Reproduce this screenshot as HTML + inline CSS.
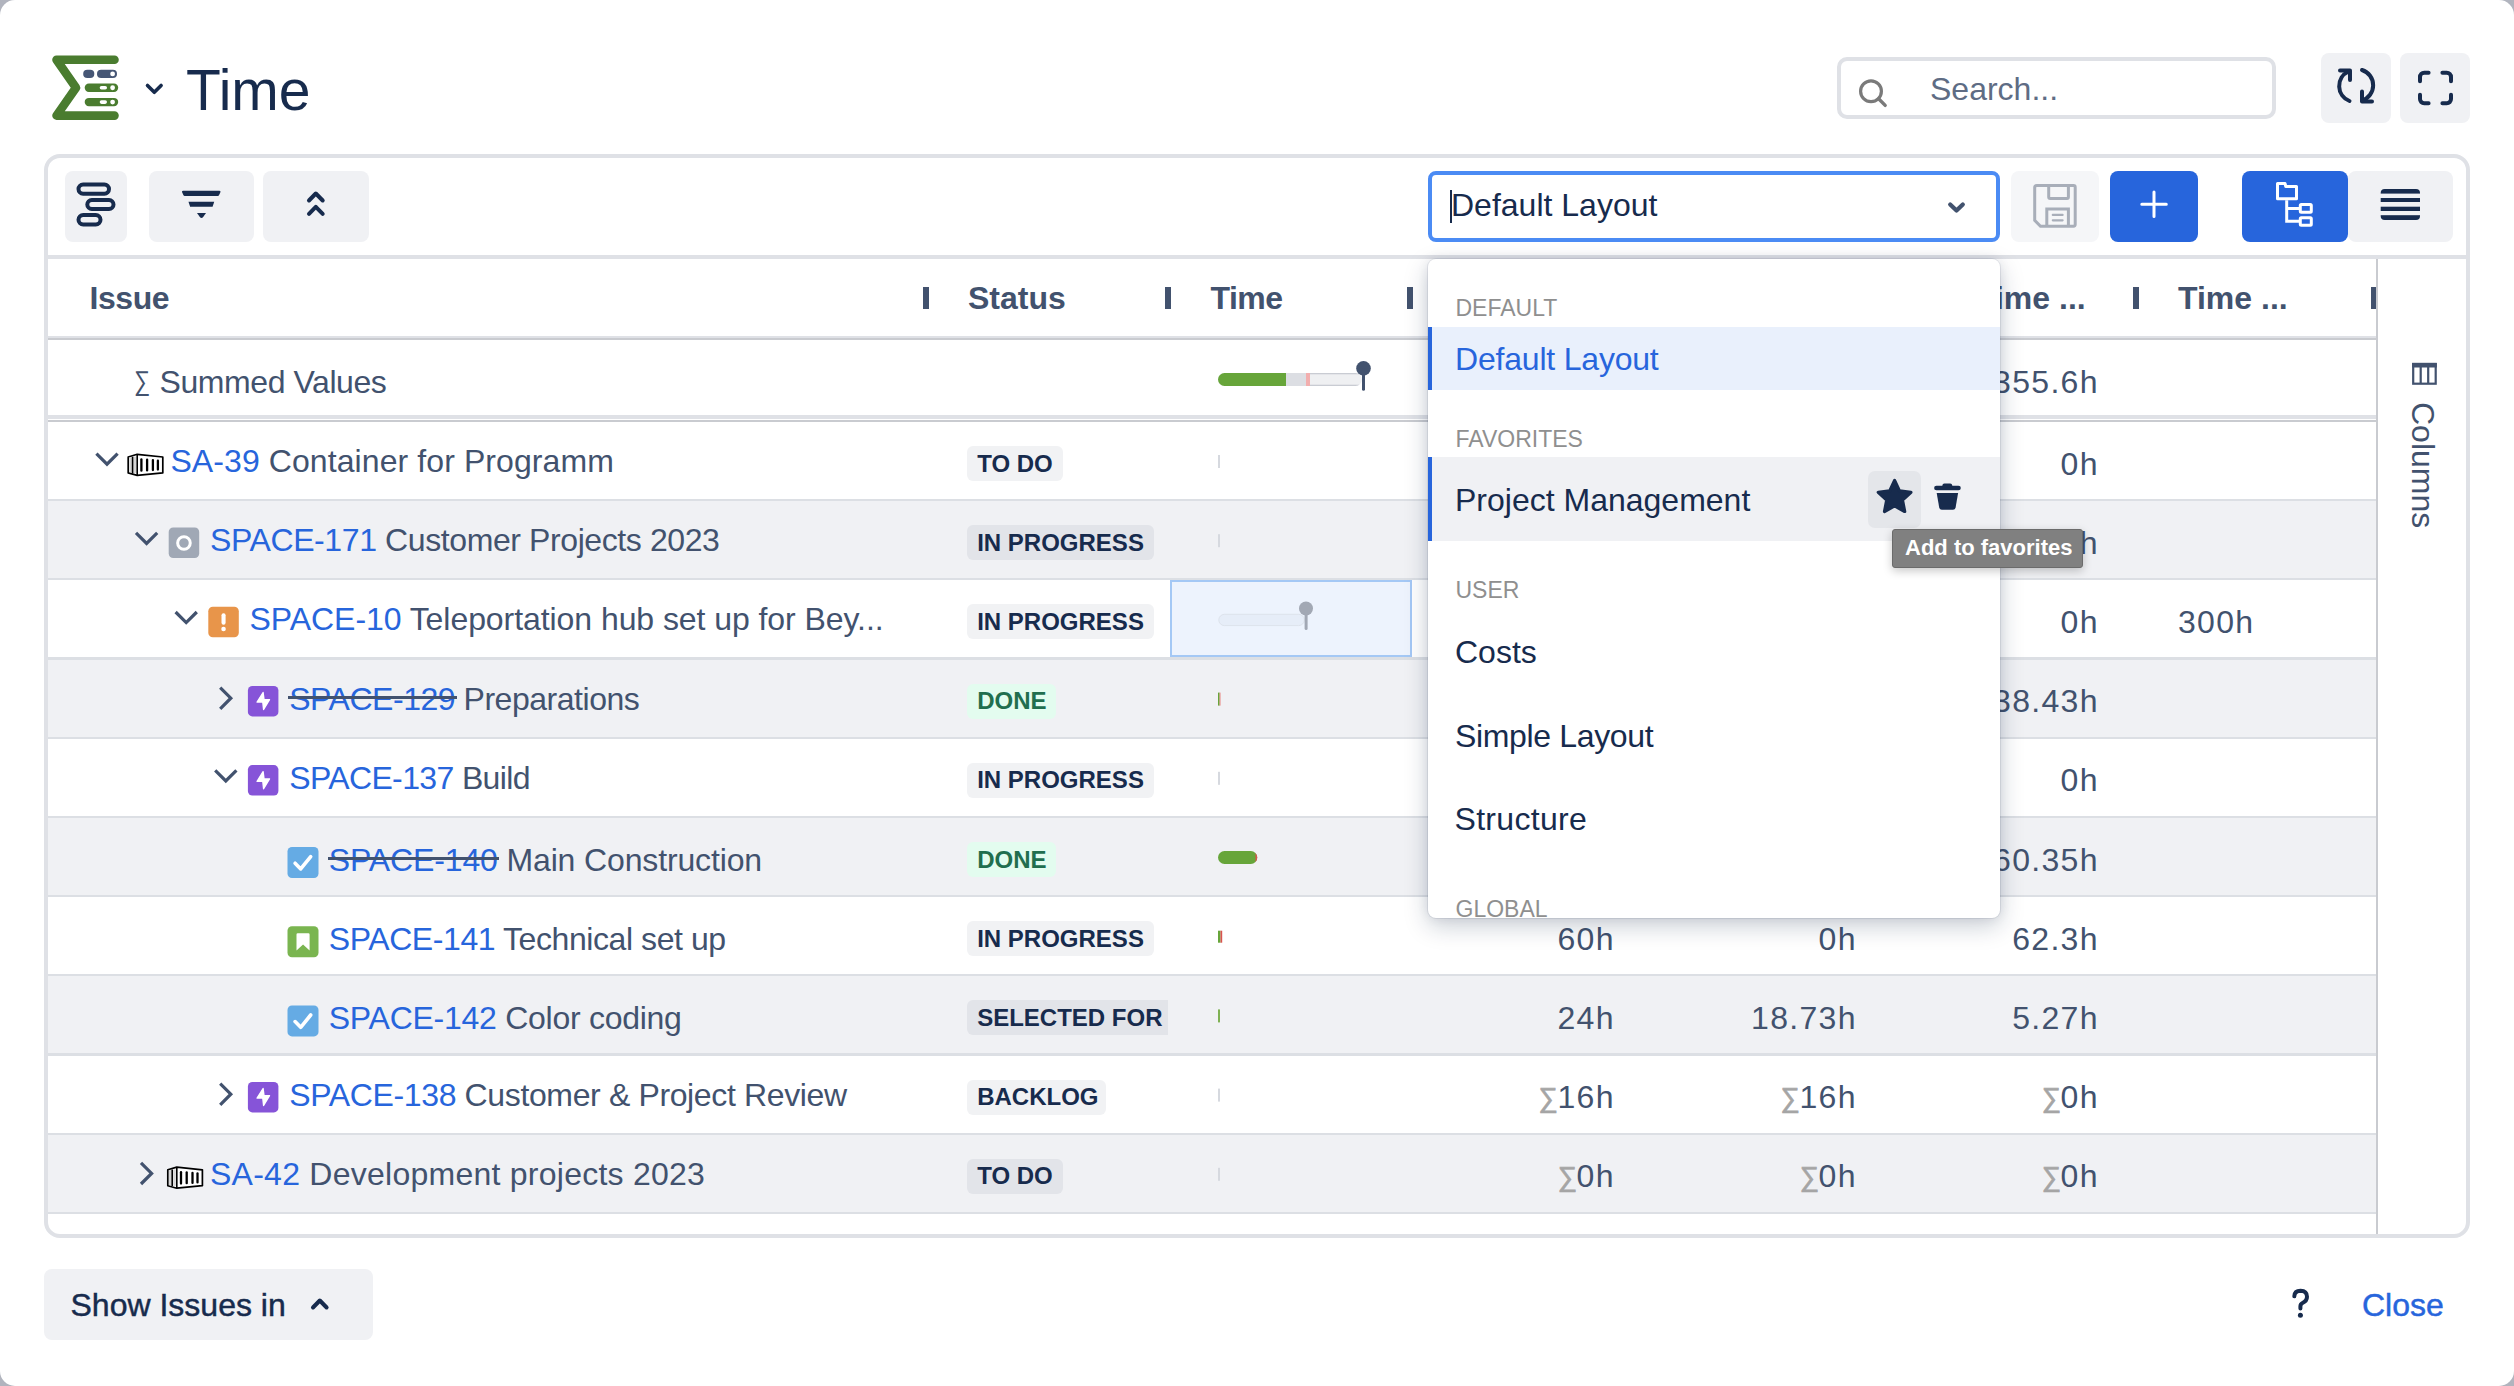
<!DOCTYPE html>
<html><head><meta charset="utf-8">
<style>
html,body{margin:0;padding:0;}
body{width:2514px;height:1386px;background:#b1b4be;position:relative;overflow:hidden;font-family:"Liberation Sans",sans-serif;}
.modal{position:absolute;left:0;top:0;width:2514px;height:1386px;background:#fff;border-radius:15px;overflow:hidden;}
.a{position:absolute;}
.t{position:absolute;line-height:1;white-space:nowrap;}
svg{position:absolute;left:0;top:0;overflow:visible;}
.btn{position:absolute;background:#f0f1f4;border-radius:8px;}
.sig{color:#a5a5a5;font-size:27px;position:relative;top:-1px;margin-right:-0.3px;letter-spacing:0;-webkit-text-stroke:0.7px #a5a5a5;}
.strk{position:absolute;left:-1px;right:-1.5px;top:15.2px;height:3px;background:#42526e;}
</style></head>
<body><div class="modal">
<svg width="1" height="1">
  <path d="M114.5 59.7 L56.5 59.7 L76 87.7 L56.5 115.6 L114.5 115.6" fill="none" stroke="#4a7c2f" stroke-width="8.6" stroke-linejoin="round" stroke-linecap="round"/>
  <rect x="83.2" y="69.8" width="11.1" height="8.2" rx="4.1" fill="#465675"/>
  <rect x="97" y="69.8" width="20" height="8.2" rx="4.1" fill="#465675"/>
  <circle cx="112.6" cy="73.9" r="2.4" fill="#fff"/>
  <rect x="84.7" y="83.6" width="33.5" height="8.3" rx="4.15" fill="#4a7c2f"/>
  <rect x="99.7" y="86" width="7.3" height="3.6" rx="1.8" fill="#fff"/>
  <circle cx="112.6" cy="87.75" r="2.4" fill="#fff"/>
  <rect x="84.7" y="97.9" width="33.5" height="8.3" rx="4.15" fill="#4a7c2f"/>
  <rect x="99.7" y="100.3" width="7.3" height="3.6" rx="1.8" fill="#fff"/>
  <circle cx="112.6" cy="102.05" r="2.4" fill="#fff"/>
  <path d="M147.5 85.5 L154.3 92.3 L161.1 85.5" fill="none" stroke="#172b4d" stroke-width="3.6" stroke-linecap="round" stroke-linejoin="round"/>
</svg>
<div class="t" style="left:186.00px;top:61.75px;font-size:57px;color:#172b4d;">Time</div>
<div class="a" style="left:1837px;top:57px;width:431px;height:54px;border:4px solid #dfe1e6;border-radius:10px;background:#fff;"></div>
<svg width="1" height="1">
  <circle cx="1871" cy="91.2" r="10.4" fill="none" stroke="#7a7a7a" stroke-width="3.2"/>
  <path d="M1878.6 98.8 L1885.2 105.4" stroke="#7a7a7a" stroke-width="3.4" stroke-linecap="round"/>
</svg>
<div class="t" style="left:1930.00px;top:72.61px;font-size:32px;color:#5e6c84;">Search...</div>
<div class="btn" style="left:2321px;top:53px;width:70px;height:70px;"></div>
<div class="btn" style="left:2400px;top:53px;width:70px;height:70px;"></div>
<svg width="1" height="1"><g fill="none" stroke="#172b4d" stroke-width="4" stroke-linecap="round" stroke-linejoin="round">
  <path d="M2349.5 101 A16 16 0 0 1 2348.5 71.5"/>
  <path d="M2340 70.5 L2350 70.5 L2350 80"/>
  <path d="M2362 70 A16 16 0 0 1 2362 100.5"/>
  <path d="M2362 91.5 L2362 101.5 L2372 101.5"/>
  <path d="M2420 81.3 L2420 77 A4.2 4.2 0 0 1 2424.2 72.8 L2428.6 72.8"/>
  <path d="M2442.4 72.8 L2446.8 72.8 A4.2 4.2 0 0 1 2451 77 L2451 81.3"/>
  <path d="M2420 94.7 L2420 99 A4.2 4.2 0 0 0 2424.2 103.2 L2428.6 103.2"/>
  <path d="M2442.4 103.2 L2446.8 103.2 A4.2 4.2 0 0 0 2451 99 L2451 94.7"/>
</g></svg>
<div class="btn" style="left:65px;top:171px;width:62px;height:71px;"></div>
<div class="btn" style="left:149px;top:171px;width:105px;height:71px;"></div>
<div class="btn" style="left:263px;top:171px;width:106px;height:71px;"></div>
<svg width="1" height="1">
 <g fill="none" stroke="#172b4d" stroke-width="4">
  <rect x="78.5" y="184.5" width="30.5" height="9.2" rx="4.6"/>
  <rect x="87.3" y="200" width="26.2" height="9" rx="4.5"/>
  <rect x="78.5" y="214.9" width="22" height="9.5" rx="4.75"/>
 </g>
 <g fill="#172b4d">
  <path d="M183 190.8 L219.5 190.8 Q221 190.8 220.4 192.3 L219 195.2 Q218.7 196 217.8 196 L184.7 196 Q183.8 196 183.5 195.2 L182.1 192.3 Q181.5 190.8 183 190.8 Z"/>
  <path d="M188.5 201.8 L214.2 201.8 L212.6 206.8 L190.1 206.8 Z"/>
  <path d="M197 212.9 L206 212.9 L203 217.2 Q201.5 218.6 200 217.2 Z"/>
 </g>
 <g fill="none" stroke="#172b4d" stroke-width="4" stroke-linecap="round" stroke-linejoin="round">
  <path d="M309 200.5 L315.8 193.5 L322.7 200.5"/>
  <path d="M309 213.8 L315.8 206.8 L322.7 213.8"/>
 </g>
</svg>
<div class="a" style="left:1428px;top:171px;width:564px;height:63px;border:4px solid #4b8bf4;border-radius:8px;background:#fff;"></div>
<div class="t" style="left:1451.00px;top:189.31px;font-size:32px;color:#172b4d;">Default Layout</div>
<div class="a" style="left:1449.5px;top:190px;width:2px;height:33px;background:#172b4d;"></div>
<svg width="1" height="1"><path d="M1950.2 204.4 L1956.5 210.6 L1962.8 204.4" fill="none" stroke="#42526e" stroke-width="4.2" stroke-linecap="round" stroke-linejoin="round"/></svg>
<div class="btn" style="left:2011px;top:171px;width:88px;height:71px;background:#f5f6f8;"></div>
<svg width="1" height="1"><g fill="none" stroke="#a8aeb9" stroke-width="3">
  <path d="M2036.8 185.5 L2073.5 185.5 Q2075.2 185.5 2075.2 187.2 L2075.2 224.6 Q2075.2 226.2 2073.5 226.2 L2040.5 226.2 L2034.7 220.4 L2034.7 187.5 Q2034.7 185.5 2036.8 185.5 Z"/>
  <path d="M2048.7 185.5 L2048.7 197 Q2048.7 198.4 2050.2 198.4 L2067 198.4 Q2068.4 198.4 2068.4 197 L2068.4 185.5"/>
  <path d="M2046.8 226.2 L2046.8 209 L2068.4 209 L2068.4 226.2"/>
  <path d="M2052.8 214.9 L2062.6 214.9 M2052.8 220.3 L2062.6 220.3" stroke-width="2.2" stroke-linecap="round"/>
</g></svg>
<div class="btn" style="left:2110px;top:171px;width:88px;height:71px;background:#2765dc;"></div>
<svg width="1" height="1"><path d="M2154 192 L2154 216.5 M2141.8 204.3 L2166.3 204.3" stroke="#fff" stroke-width="3" stroke-linecap="round"/></svg>
<div class="btn" style="left:2348px;top:171px;width:105px;height:71px;"></div>
<div class="btn" style="left:2242px;top:171px;width:106px;height:71px;background:#2765dc;"></div>
<svg width="1" height="1"><g fill="none" stroke="#fff" stroke-width="3">
  <path d="M2277.5 198.8 L2277.5 183.5 L2285 183.5 L2285.8 186.5 L2296.5 186.5 L2296.5 198.8 Z" stroke-linejoin="round"/>
  <path d="M2286.7 200.3 L2286.7 221.3 L2300 221.3 M2286.7 208.5 L2300 208.5"/>
  <rect x="2300.3" y="204.5" width="11" height="7.7" rx="1"/>
  <rect x="2300.3" y="217.7" width="11" height="7.6" rx="1"/>
</g>
<rect x="2380.7" y="189" width="39.3" height="31" rx="4" fill="#172b4d"/>
<g fill="#f0f1f4"><rect x="2379" y="193.6" width="43" height="4.4"/><rect x="2379" y="202" width="43" height="4.7"/><rect x="2379" y="211" width="43" height="4.2"/></g>
</svg>
<div class="a" style="left:44px;top:154px;width:2418px;height:1076px;border:4px solid #dfe1e6;border-radius:16px;"></div>
<div class="a" style="left:48px;top:255px;width:2418px;height:4px;background:#dfe1e6;"></div>
<div class="a" style="left:48px;top:336px;width:2328px;height:2px;background:#dfe1e6;"></div>
<div class="a" style="left:48px;top:338px;width:2328px;height:2px;background:#c9cbd0;"></div>
<div class="a" style="left:48px;top:415px;width:2328px;height:4px;background:#dfe1e6;"></div>
<div class="a" style="left:48px;top:420px;width:2328px;height:2px;background:#c9cbd0;"></div>
<div class="t" style="left:89.50px;top:282.41px;font-size:32px;color:#42526e;font-weight:bold;letter-spacing:-0.45px;">Issue</div>
<div class="t" style="left:968.00px;top:282.41px;font-size:32px;color:#42526e;font-weight:bold;">Status</div>
<div class="t" style="left:1210.50px;top:282.41px;font-size:32px;color:#42526e;font-weight:bold;letter-spacing:-0.5px;">Time</div>
<div class="t" style="left:1976.00px;top:282.41px;font-size:32px;color:#42526e;font-weight:bold;">Time ...</div>
<div class="t" style="left:2178.00px;top:282.41px;font-size:32px;color:#42526e;font-weight:bold;">Time ...</div>
<div class="a" style="left:922.5px;top:286.5px;width:6px;height:22.5px;background:#42526e;"></div>
<div class="a" style="left:1164.5px;top:286.5px;width:6px;height:22.5px;background:#42526e;"></div>
<div class="a" style="left:1406.7px;top:286.5px;width:6px;height:22.5px;background:#42526e;"></div>
<div class="a" style="left:1648.7px;top:286.5px;width:6px;height:22.5px;background:#42526e;"></div>
<div class="a" style="left:1890.7px;top:286.5px;width:6px;height:22.5px;background:#42526e;"></div>
<div class="a" style="left:2132.7px;top:286.5px;width:6px;height:22.5px;background:#42526e;"></div>
<div class="a" style="left:2371.0px;top:286.5px;width:6px;height:22.5px;background:#42526e;"></div>
<div class="t" style="left:133.50px;top:370.64px;font-size:27px;color:#42526e;top:368px;transform:scaleX(0.84);transform-origin:0 0;">&#8721;</div>
<div class="t" style="left:159.50px;top:366.41px;font-size:32px;color:#42526e;letter-spacing:-0.42px;">Summed Values</div>
<div class="t" style="left:1898.8px;top:366.4px;width:200px;text-align:right;font-size:32px;color:#42526e;letter-spacing:1.3px;">355.6h</div>
<svg width="1" height="1">
 <defs><clipPath id="bar1"><rect x="1218" y="373" width="144" height="13" rx="6.5"/></clipPath></defs>
 <g clip-path="url(#bar1)">
  <rect x="1218" y="373" width="144" height="13" fill="#eff0f2"/>
  <rect x="1310" y="373" width="52" height="1.3" fill="#c9ccd3"/>
  <rect x="1310" y="384.7" width="52" height="1.3" fill="#c9ccd3"/>
  <rect x="1218" y="373" width="68" height="13" fill="#67a53a"/>
  <rect x="1286" y="373" width="20" height="13" fill="#dcdee3"/>
  <rect x="1306" y="373" width="4" height="13" fill="#f2aeae"/>
 </g>
 <circle cx="1363.5" cy="368.4" r="7.3" fill="#42526e"/>
 <rect x="1362" y="368" width="3" height="22.7" rx="1.5" fill="#42526e"/>
</svg>
<div class="a" style="left:48px;top:422.00px;width:2328px;height:79.20px;background:#fff;"></div>
<div class="a" style="left:48px;top:499.00px;width:2328px;height:2.2px;background:#dcdfe4;"></div>
<div class="a" style="left:48px;top:501.20px;width:2328px;height:79.20px;background:#f0f1f4;"></div>
<div class="a" style="left:48px;top:578.20px;width:2328px;height:2.2px;background:#dcdfe4;"></div>
<div class="a" style="left:48px;top:580.40px;width:2328px;height:79.20px;background:#fff;"></div>
<div class="a" style="left:48px;top:657.40px;width:2328px;height:2.2px;background:#dcdfe4;"></div>
<div class="a" style="left:48px;top:659.60px;width:2328px;height:79.20px;background:#f0f1f4;"></div>
<div class="a" style="left:48px;top:736.60px;width:2328px;height:2.2px;background:#dcdfe4;"></div>
<div class="a" style="left:48px;top:738.80px;width:2328px;height:79.20px;background:#fff;"></div>
<div class="a" style="left:48px;top:815.80px;width:2328px;height:2.2px;background:#dcdfe4;"></div>
<div class="a" style="left:48px;top:818.00px;width:2328px;height:79.20px;background:#f0f1f4;"></div>
<div class="a" style="left:48px;top:895.00px;width:2328px;height:2.2px;background:#dcdfe4;"></div>
<div class="a" style="left:48px;top:897.20px;width:2328px;height:79.20px;background:#fff;"></div>
<div class="a" style="left:48px;top:974.20px;width:2328px;height:2.2px;background:#dcdfe4;"></div>
<div class="a" style="left:48px;top:976.40px;width:2328px;height:79.20px;background:#f0f1f4;"></div>
<div class="a" style="left:48px;top:1053.40px;width:2328px;height:2.2px;background:#dcdfe4;"></div>
<div class="a" style="left:48px;top:1055.60px;width:2328px;height:79.20px;background:#fff;"></div>
<div class="a" style="left:48px;top:1132.60px;width:2328px;height:2.2px;background:#dcdfe4;"></div>
<div class="a" style="left:48px;top:1134.80px;width:2328px;height:79.20px;background:#f0f1f4;"></div>
<div class="a" style="left:48px;top:1211.80px;width:2328px;height:2.2px;background:#dcdfe4;"></div>
<div class="a" style="left:2376px;top:259px;width:2px;height:975px;background:#c9cbd0;"></div>
<svg width="1" height="1"><path d="M96.40 453.60 L107.00 464.20 L117.60 453.60" fill="none" stroke="#42526e" stroke-width="3.2"/><g transform="translate(127.80,453.80)"><path d="M0.4 3.2 L9.4 0.5 L35 3.2 L35 19.1 L9.4 21.6 L0.4 19.1 Z" fill="#fff" stroke="#000" stroke-width="1.7" stroke-linejoin="round"/><rect x="1.6" y="3.5" width="2.6" height="15" fill="#d6d6d6"/><rect x="5.8" y="2.8" width="2.6" height="16.4" fill="#d6d6d6"/><path d="M4.8 3 L4.8 19.4 M9.4 0.8 L9.4 21.4" stroke="#000" stroke-width="1.6"/><g stroke="#000" stroke-width="2.3" stroke-linecap="round"><path d="M13.6 5.6 L13.6 16.9"/><path d="M19.3 5.9 L19.3 16.6"/><path d="M25.1 6.3 L25.1 16.3"/><path d="M30.1 6.9 L30.1 15.8"/></g></g></svg>
<div class="t" style="left:170.40px;top:444.91px;font-size:32px;color:#42526e;letter-spacing:0.09px;"><span style="color:#2765dc;position:relative;">SA-39</span> Container for Programm</div>
<div class="a" style="left:967.3px;top:446.00px;width:95.5px;height:35px;border-radius:6px;background:rgba(9,30,66,0.06);"></div>
<div class="t" style="left:977.20px;top:451.68px;font-size:24px;color:#172b4d;font-weight:bold;">TO DO</div>
<div class="t" style="left:1898.8px;top:447.60px;width:200px;text-align:right;font-size:32px;color:#42526e;letter-spacing:1.3px;">0h</div>
<svg width="1" height="1"><path d="M136.00 532.80 L146.60 543.40 L157.20 532.80" fill="none" stroke="#42526e" stroke-width="3.2"/><g transform="translate(168.70,527.50)"><rect width="30.5" height="30.5" rx="4.5" fill="#a0a8b5"/><circle cx="15.25" cy="15.5" r="6.3" fill="none" stroke="#fff" stroke-width="3"/></g></svg>
<div class="t" style="left:210.00px;top:524.11px;font-size:32px;color:#42526e;letter-spacing:-0.4px;"><span style="color:#2765dc;position:relative;">SPACE-171</span> Customer Projects 2023</div>
<div class="a" style="left:967.3px;top:525.20px;width:186.5px;height:35px;border-radius:6px;background:rgba(9,30,66,0.06);"></div>
<div class="t" style="left:977.20px;top:530.88px;font-size:24px;color:#172b4d;font-weight:bold;">IN PROGRESS</div>
<div class="t" style="left:1898.8px;top:526.80px;width:200px;text-align:right;font-size:32px;color:#42526e;letter-spacing:1.3px;">0h</div>
<svg width="1" height="1"><path d="M175.60 612.00 L186.20 622.60 L196.80 612.00" fill="none" stroke="#42526e" stroke-width="3.2"/><g transform="translate(208.30,606.70)"><rect width="30.5" height="30.5" rx="4.5" fill="#e8954a"/><rect x="13.2" y="6.5" width="4.1" height="11.5" rx="2" fill="#fff"/><circle cx="15.25" cy="22.3" r="2.3" fill="#fff"/></g></svg>
<div class="t" style="left:249.60px;top:603.31px;font-size:32px;color:#42526e;letter-spacing:-0.065px;"><span style="color:#2765dc;position:relative;">SPACE-10</span> Teleportation hub set up for Bey...</div>
<div class="a" style="left:967.3px;top:604.40px;width:186.5px;height:35px;border-radius:6px;background:rgba(9,30,66,0.06);"></div>
<div class="t" style="left:977.20px;top:610.08px;font-size:24px;color:#172b4d;font-weight:bold;">IN PROGRESS</div>
<div class="t" style="left:1898.8px;top:606.00px;width:200px;text-align:right;font-size:32px;color:#42526e;letter-spacing:1.3px;">0h</div>
<div class="t" style="left:2178.00px;top:606.01px;font-size:32px;color:#42526e;letter-spacing:1.3px;">300h</div>
<svg width="1" height="1"><path d="M220.20 687.60 L230.80 698.20 L220.20 708.80" fill="none" stroke="#42526e" stroke-width="3.2"/><g transform="translate(247.90,685.90)"><rect width="30.5" height="30.5" rx="4.5" fill="#8654d8"/><path d="M15.2 6.6 L9.2 16.2 L14.9 16.2 L15.7 23.6 L21.6 13.8 L16.1 13.8 Z" fill="#fff" stroke="#fff" stroke-width="1.4" stroke-linejoin="round"/></g></svg>
<div class="t" style="left:289.20px;top:682.51px;font-size:32px;color:#42526e;letter-spacing:-0.47px;"><span style="color:#2765dc;position:relative;">SPACE-129<i class="strk"></i></span> Preparations</div>
<div class="a" style="left:967.3px;top:683.60px;width:88.8px;height:35px;border-radius:6px;background:#e3fcef;"></div>
<div class="t" style="left:977.20px;top:689.28px;font-size:24px;color:#216e4e;font-weight:bold;">DONE</div>
<div class="t" style="left:1898.8px;top:685.20px;width:200px;text-align:right;font-size:32px;color:#42526e;letter-spacing:1.3px;">38.43h</div>
<svg width="1" height="1"><path d="M215.20 770.40 L225.80 781.00 L236.40 770.40" fill="none" stroke="#42526e" stroke-width="3.2"/><g transform="translate(247.90,765.10)"><rect width="30.5" height="30.5" rx="4.5" fill="#8654d8"/><path d="M15.2 6.6 L9.2 16.2 L14.9 16.2 L15.7 23.6 L21.6 13.8 L16.1 13.8 Z" fill="#fff" stroke="#fff" stroke-width="1.4" stroke-linejoin="round"/></g></svg>
<div class="t" style="left:289.20px;top:761.71px;font-size:32px;color:#42526e;letter-spacing:-0.636px;"><span style="color:#2765dc;position:relative;">SPACE-137</span> Build</div>
<div class="a" style="left:967.3px;top:762.80px;width:186.5px;height:35px;border-radius:6px;background:rgba(9,30,66,0.06);"></div>
<div class="t" style="left:977.20px;top:768.48px;font-size:24px;color:#172b4d;font-weight:bold;">IN PROGRESS</div>
<div class="t" style="left:1898.8px;top:764.40px;width:200px;text-align:right;font-size:32px;color:#42526e;letter-spacing:1.3px;">0h</div>
<svg width="1" height="1"><g transform="translate(287.50,847.00)"><rect width="31" height="31" rx="4.5" fill="#65abe4"/><path d="M7.6 16.2 L13.2 21.9 L23.2 9.6" fill="none" stroke="#fff" stroke-width="3.6" stroke-linecap="round" stroke-linejoin="round"/></g></svg>
<div class="t" style="left:328.80px;top:843.61px;font-size:32px;color:#42526e;letter-spacing:-0.14px;"><span style="color:#2765dc;position:relative;">SPACE-140<i class="strk"></i></span> Main Construction</div>
<div class="a" style="left:967.3px;top:842.00px;width:88.8px;height:35px;border-radius:6px;background:#e3fcef;"></div>
<div class="t" style="left:977.20px;top:847.68px;font-size:24px;color:#216e4e;font-weight:bold;">DONE</div>
<div class="t" style="left:1898.8px;top:843.60px;width:200px;text-align:right;font-size:32px;color:#42526e;letter-spacing:1.3px;">60.35h</div>
<svg width="1" height="1"><g transform="translate(287.50,926.20)"><rect width="31" height="31" rx="4.5" fill="#7ab550"/><path d="M9 8.2 Q9 7 10.2 7 L20.9 7 Q22.1 7 22.1 8.2 L22.1 24.3 L15.55 18.2 L9 24.3 Z" fill="#fff"/></g></svg>
<div class="t" style="left:328.80px;top:922.81px;font-size:32px;color:#42526e;letter-spacing:-0.424px;"><span style="color:#2765dc;position:relative;">SPACE-141</span> Technical set up</div>
<div class="a" style="left:967.3px;top:921.20px;width:186.5px;height:35px;border-radius:6px;background:rgba(9,30,66,0.06);"></div>
<div class="t" style="left:977.20px;top:926.88px;font-size:24px;color:#172b4d;font-weight:bold;">IN PROGRESS</div>
<div class="t" style="left:1414.8px;top:922.80px;width:200px;text-align:right;font-size:32px;color:#42526e;letter-spacing:1.3px;">60h</div>
<div class="t" style="left:1656.8px;top:922.80px;width:200px;text-align:right;font-size:32px;color:#42526e;letter-spacing:1.3px;">0h</div>
<div class="t" style="left:1898.8px;top:922.80px;width:200px;text-align:right;font-size:32px;color:#42526e;letter-spacing:1.3px;">62.3h</div>
<svg width="1" height="1"><g transform="translate(287.50,1005.40)"><rect width="31" height="31" rx="4.5" fill="#65abe4"/><path d="M7.6 16.2 L13.2 21.9 L23.2 9.6" fill="none" stroke="#fff" stroke-width="3.6" stroke-linecap="round" stroke-linejoin="round"/></g></svg>
<div class="t" style="left:328.80px;top:1002.01px;font-size:32px;color:#42526e;letter-spacing:-0.267px;"><span style="color:#2765dc;position:relative;">SPACE-142</span> Color coding</div>
<div class="a" style="left:967.3px;top:1000.40px;width:200.7px;height:35px;border-radius:6px 0 0 6px;background:rgba(9,30,66,0.06);"></div>
<div class="t" style="left:977.20px;top:1006.08px;font-size:24px;color:#172b4d;font-weight:bold;">SELECTED FOR</div>
<div class="t" style="left:1414.8px;top:1002.00px;width:200px;text-align:right;font-size:32px;color:#42526e;letter-spacing:1.3px;">24h</div>
<div class="t" style="left:1656.8px;top:1002.00px;width:200px;text-align:right;font-size:32px;color:#42526e;letter-spacing:1.3px;">18.73h</div>
<div class="t" style="left:1898.8px;top:1002.00px;width:200px;text-align:right;font-size:32px;color:#42526e;letter-spacing:1.3px;">5.27h</div>
<svg width="1" height="1"><path d="M220.20 1083.60 L230.80 1094.20 L220.20 1104.80" fill="none" stroke="#42526e" stroke-width="3.2"/><g transform="translate(247.90,1081.90)"><rect width="30.5" height="30.5" rx="4.5" fill="#8654d8"/><path d="M15.2 6.6 L9.2 16.2 L14.9 16.2 L15.7 23.6 L21.6 13.8 L16.1 13.8 Z" fill="#fff" stroke="#fff" stroke-width="1.4" stroke-linejoin="round"/></g></svg>
<div class="t" style="left:289.20px;top:1078.51px;font-size:32px;color:#42526e;letter-spacing:-0.365px;"><span style="color:#2765dc;position:relative;">SPACE-138</span> Customer &amp; Project Review</div>
<div class="a" style="left:967.3px;top:1079.60px;width:139px;height:35px;border-radius:6px;background:rgba(9,30,66,0.06);"></div>
<div class="t" style="left:977.20px;top:1085.28px;font-size:24px;color:#172b4d;font-weight:bold;">BACKLOG</div>
<div class="t" style="left:1414.8px;top:1081.20px;width:200px;text-align:right;font-size:32px;color:#42526e;letter-spacing:1.3px;"><span class="sig">&#8721;</span>16h</div>
<div class="t" style="left:1656.8px;top:1081.20px;width:200px;text-align:right;font-size:32px;color:#42526e;letter-spacing:1.3px;"><span class="sig">&#8721;</span>16h</div>
<div class="t" style="left:1898.8px;top:1081.20px;width:200px;text-align:right;font-size:32px;color:#42526e;letter-spacing:1.3px;"><span class="sig">&#8721;</span>0h</div>
<svg width="1" height="1"><path d="M141.00 1162.80 L151.60 1173.40 L141.00 1184.00" fill="none" stroke="#42526e" stroke-width="3.2"/><g transform="translate(167.40,1166.60)"><path d="M0.4 3.2 L9.4 0.5 L35 3.2 L35 19.1 L9.4 21.6 L0.4 19.1 Z" fill="#fff" stroke="#000" stroke-width="1.7" stroke-linejoin="round"/><rect x="1.6" y="3.5" width="2.6" height="15" fill="#d6d6d6"/><rect x="5.8" y="2.8" width="2.6" height="16.4" fill="#d6d6d6"/><path d="M4.8 3 L4.8 19.4 M9.4 0.8 L9.4 21.4" stroke="#000" stroke-width="1.6"/><g stroke="#000" stroke-width="2.3" stroke-linecap="round"><path d="M13.6 5.6 L13.6 16.9"/><path d="M19.3 5.9 L19.3 16.6"/><path d="M25.1 6.3 L25.1 16.3"/><path d="M30.1 6.9 L30.1 15.8"/></g></g></svg>
<div class="t" style="left:210.00px;top:1157.71px;font-size:32px;color:#42526e;letter-spacing:0.25px;"><span style="color:#2765dc;position:relative;">SA-42</span> Development projects 2023</div>
<div class="a" style="left:967.3px;top:1158.80px;width:95.5px;height:35px;border-radius:6px;background:rgba(9,30,66,0.06);"></div>
<div class="t" style="left:977.20px;top:1164.48px;font-size:24px;color:#172b4d;font-weight:bold;">TO DO</div>
<div class="t" style="left:1414.8px;top:1160.40px;width:200px;text-align:right;font-size:32px;color:#42526e;letter-spacing:1.3px;"><span class="sig">&#8721;</span>0h</div>
<div class="t" style="left:1656.8px;top:1160.40px;width:200px;text-align:right;font-size:32px;color:#42526e;letter-spacing:1.3px;"><span class="sig">&#8721;</span>0h</div>
<div class="t" style="left:1898.8px;top:1160.40px;width:200px;text-align:right;font-size:32px;color:#42526e;letter-spacing:1.3px;"><span class="sig">&#8721;</span>0h</div>
<svg width="1" height="1"><rect x="1218" y="455.00" width="2" height="13" fill="#d6d9df"/><rect x="1218" y="534.20" width="2" height="13" fill="#d6d9df"/><rect x="1218" y="771.80" width="2" height="13" fill="#d6d9df"/><rect x="1218" y="1088.60" width="2" height="13" fill="#d6d9df"/><rect x="1218" y="1167.80" width="2" height="13" fill="#d6d9df"/><rect x="1218" y="692.60" width="1.6" height="13" fill="#67a53a"/><rect x="1218" y="1009.40" width="2" height="13" fill="#7fb153"/><rect x="1219.6" y="692.60" width="0.9" height="13" fill="#e8847f"/><rect x="1218" y="930.70" width="2.5" height="12" fill="#67a53a"/><rect x="1220.5" y="930.70" width="1.7" height="12" fill="#d9534f"/><defs><clipPath id="b140"><rect x="1218" y="851.00" width="39.3" height="13" rx="6.5"/></clipPath></defs><g clip-path="url(#b140)"><rect x="1218" y="851.00" width="40" height="13" fill="#67a53a"/><rect x="1255.5" y="851.00" width="2" height="13" fill="#d9534f"/></g></svg>
<div class="a" style="left:1170px;top:580.30px;width:237.5px;height:73px;border:2px solid #a4c8f5;background:#edf3fd;"></div>
<svg width="1" height="1">
 <rect x="1218.8" y="614.3" width="85.5" height="11.3" rx="5.6" fill="#e6edf8" stroke="#dde3ec" stroke-width="1"/>
 <circle cx="1306" cy="608.5" r="7" fill="#a2a8b4"/>
 <rect x="1304.6" y="608" width="3" height="22" rx="1.5" fill="#a2a8b4"/>
</svg>
<svg width="1" height="1"><g fill="none" stroke="#42526e" stroke-width="2.2"><rect x="2413.2" y="364" width="22.5" height="19.7"/><path d="M2420.7 366 L2420.7 384 M2428.2 366 L2428.2 384"/></g><rect x="2412.1" y="362.9" width="24.7" height="4.6" fill="#42526e"/></svg>
<div class="t" style="left:2439px;top:402px;font-size:32px;color:#42526e;transform-origin:0 0;transform:rotate(90deg);">Columns</div>
<div class="a" style="left:1427.5px;top:258.6px;width:572.5px;height:659.9px;background:#fff;border-radius:8px;box-shadow:0 0 0 1px rgba(9,30,66,0.08),0 8px 24px rgba(9,30,66,0.22),0 0 12px rgba(9,30,66,0.08);"></div>
<div class="t" style="left:1455.50px;top:296.53px;font-size:23px;color:#8f8f8f;letter-spacing:0px;">DEFAULT</div>
<div class="a" style="left:1427.5px;top:327px;width:572.5px;height:63px;background:#e9f0fc;"></div>
<div class="a" style="left:1427.5px;top:327px;width:4.5px;height:63px;background:#2765dc;"></div>
<div class="t" style="left:1455.00px;top:342.91px;font-size:32px;color:#2765dc;letter-spacing:-0.2px;">Default Layout</div>
<div class="t" style="left:1455.50px;top:427.83px;font-size:23px;color:#8f8f8f;">FAVORITES</div>
<div class="a" style="left:1427.5px;top:457.3px;width:572.5px;height:83.4px;background:#f0f1f4;"></div>
<div class="a" style="left:1427.5px;top:457.3px;width:4.5px;height:83.4px;background:#2765dc;"></div>
<div class="t" style="left:1455.00px;top:483.91px;font-size:32px;color:#172b4d;">Project Management</div>
<div class="a" style="left:1868px;top:471.2px;width:53px;height:56.4px;border-radius:7px;background:#e4e6ea;"></div>
<svg width="1" height="1"><polygon points="1894.60,480.40 1899.48,490.89 1910.96,492.28 1902.49,500.16 1904.71,511.52 1894.60,505.90 1884.49,511.52 1886.71,500.16 1878.24,492.28 1889.72,490.89" fill="#172b4d" stroke="#172b4d" stroke-width="3.2" stroke-linejoin="round"/><rect x="1934.1" y="485.7" width="26.7" height="4.6" rx="2.3" fill="#172b4d"/><rect x="1942.4" y="483.4" width="9.8" height="4" rx="2" fill="#172b4d"/><path d="M1936.7 492.9 L1958.1 492.9 L1955.6 507.6 Q1955.2 509.8 1953 509.8 L1941.8 509.8 Q1939.6 509.8 1939.2 507.6 Z" fill="#172b4d"/></svg>
<div class="t" style="left:1455.50px;top:578.83px;font-size:23px;color:#8f8f8f;">USER</div>
<div class="t" style="left:1455.00px;top:636.21px;font-size:32px;color:#172b4d;">Costs</div>
<div class="t" style="left:1455.00px;top:719.51px;font-size:32px;color:#172b4d;letter-spacing:-0.35px;">Simple Layout</div>
<div class="t" style="left:1454.50px;top:803.31px;font-size:32px;color:#172b4d;letter-spacing:0.3px;">Structure</div>
<div class="t" style="left:1455.50px;top:897.53px;font-size:23px;color:#8f8f8f;">GLOBAL</div>
<div class="a" style="left:1892px;top:529px;width:189px;height:37.4px;background:#808080;border:1px solid #6b6b6b;border-radius:3px;box-shadow:0 3px 10px rgba(0,0,0,0.22);"></div>
<div class="t" style="left:1905.00px;top:537.38px;font-size:22px;color:#fff;font-weight:bold;">Add to favorites</div>
<div class="btn" style="left:44px;top:1269px;width:329px;height:71px;"></div>
<div class="t" style="left:70.50px;top:1288.91px;font-size:32px;color:#172b4d;-webkit-text-stroke:0.45px #172b4d;">Show Issues in</div>
<svg width="1" height="1"><path d="M313 1307.5 L319.8 1300.5 L326.6 1307.5" fill="none" stroke="#172b4d" stroke-width="4" stroke-linecap="round" stroke-linejoin="round"/><path d="M2294.3 1296.3 Q2294.6 1290.8 2300.5 1290.8 Q2307 1291 2307 1296.8 Q2307 1301 2302.5 1303 Q2300.4 1304 2300.4 1306.5 L2300.4 1308.5" fill="none" stroke="#172b4d" stroke-width="4" stroke-linecap="round"/><circle cx="2300.4" cy="1315.2" r="2.5" fill="#172b4d"/></svg>
<div class="t" style="left:2362.00px;top:1288.71px;font-size:32px;color:#2765dc;-webkit-text-stroke:0.45px #2765dc;">Close</div>
</div></body></html>
